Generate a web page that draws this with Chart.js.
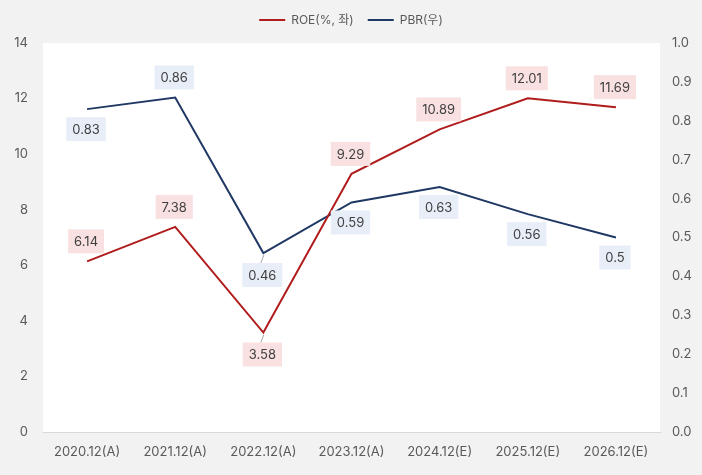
<!DOCTYPE html>
<html>
<head>
<meta charset="utf-8">
<script src="https://cdn.jsdelivr.net/npm/chart.js@4"></script>
<style>
    html, body { margin: 0; padding: 0; background: #f2f2f2; }
</style>
</head>
<body>
<canvas id="roeChart" width="702" height="475"></canvas>
<script>
        const categories = ["2020.12(A)", "2021.12(A)", "2022.12(A)", "2023.12(A)", "2024.12(E)", "2025.12(E)", "2026.12(E)"];
        const roeValues = [6.14, 7.38, 3.58, 9.29, 10.89, 12.01, 11.69];
        const pbrValues = [0.83, 0.86, 0.46, 0.59, 0.63, 0.56, 0.5];

        const FONT = "Inter, 'Noto Sans CJK KR', sans-serif";

        // white plot area on grey page, and a bit more room under the legend
        const plotBg = {
            id: "plotBg",
            afterInit(chart) {
                const lg = chart.legend;
                if (lg) {
                    const fit = lg.fit;
                    lg.fit = function () { fit.call(this); this.height += 7; };
                }
            },
            beforeDraw(chart) {
                const a = chart.chartArea;
                const ctx = chart.ctx;
                ctx.save();
                ctx.fillStyle = "#ffffff";
                ctx.fillRect(a.left, a.top, a.right - a.left, a.bottom - a.top);
                ctx.restore();
            }
        };

        // boxed value labels, leader line where the label was pulled away
        const boxLabels = {
            id: "boxLabels",
            afterDatasetsDraw(chart) {
                const ctx = chart.ctx;
                ctx.save();
                ctx.font = "13px " + FONT;
                ctx.textAlign = "center";
                ctx.textBaseline = "middle";
                chart.data.datasets.forEach((ds, i) => {
                    const meta = chart.getDatasetMeta(i);
                    meta.data.forEach((pt, j) => {
                        const text = String(ds.data[j]);
                        const dir = ds.labelSide[j] === "up" ? -1 : 1;
                        const w = ctx.measureText(text).width + 12;
                        const h = 24;
                        const lead = ds.leader.includes(j);
                        const cy = pt.y + dir * (lead ? 22 : 20);
                        const edge = cy - dir * h / 2;
                        if (lead) {
                            ctx.strokeStyle = "#a6a6a6";
                            ctx.lineWidth = 1;
                            ctx.beginPath();
                            ctx.moveTo(pt.x + 0.5, pt.y + dir * 2);
                            ctx.lineTo(pt.x - 2.5, edge);
                            ctx.stroke();
                        }
                        ctx.fillStyle = ds.labelFill;
                        ctx.fillRect(pt.x - 1 - w / 2, cy - h / 2, w, h);
                        ctx.fillStyle = "#404040";
                        ctx.fillText(text, pt.x - 1, cy + 1);
                    });
                });
                ctx.restore();
            }
        };

        new Chart(
            document.getElementById("roeChart"),
            {
                type: "line",
                data: {
                    labels: categories,
                    datasets: [{
                        label: "ROE(%, 좌)",
                        data: roeValues,
                        yAxisID: "y",
                        borderColor: "#b01c1c",
                        backgroundColor: "#b01c1c",
                        borderWidth: 2,
                        pointRadius: 0,
                        labelFill: "#f9e1e1",
                        labelSide: ["up", "up", "down", "up", "up", "up", "up"],
                        leader: [2]
                    }, {
                        label: "PBR(우)",
                        data: pbrValues,
                        yAxisID: "y1",
                        borderColor: "#203864",
                        backgroundColor: "#203864",
                        borderWidth: 2,
                        pointRadius: 0,
                        labelFill: "#e8eef8",
                        labelSide: ["down", "up", "down", "down", "down", "down", "down"],
                        leader: [2]
                    }]
                },
                options: {
                    responsive: false,
                    animation: false,
                    plugins: {
                        legend: {
                            position: "top",
                            labels: {
                                usePointStyle: true,
                                pointStyle: "line",
                                pointStyleWidth: 26,
                                color: "#595959",
                                font: { family: FONT, size: 12 },
                                padding: 14
                            }
                        },
                        tooltip: { enabled: false }
                    },
                    scales: {
                        x: {
                            offset: true,
                            grid: { display: false, drawTicks: false },
                            border: { display: true, color: "#d9d9d9", width: 1 },
                            ticks: { color: "#595959", font: { family: FONT, size: 13 }, padding: 12, maxRotation: 0 },
                            afterFit(s) { s.height = 43; }
                        },
                        y: {
                            position: "left",
                            min: 0, max: 14,
                            grid: { display: false, drawTicks: false },
                            border: { display: false },
                            ticks: { stepSize: 2, color: "#595959", font: { family: FONT, size: 13 }, padding: 15 },
                            afterFit(s) { s.width = 43; }
                        },
                        y1: {
                            position: "right",
                            min: 0, max: 1,
                            grid: { display: false, drawTicks: false },
                            border: { display: false },
                            ticks: {
                                stepSize: 0.1,
                                color: "#595959",
                                font: { family: FONT, size: 13 },
                                padding: 12,
                                callback: v => v.toFixed(1)
                            },
                            afterFit(s) { s.width = 42; }
                        }
                    }
                },
                plugins: [plotBg, boxLabels]
            }
        );
</script>
</body>
</html>
